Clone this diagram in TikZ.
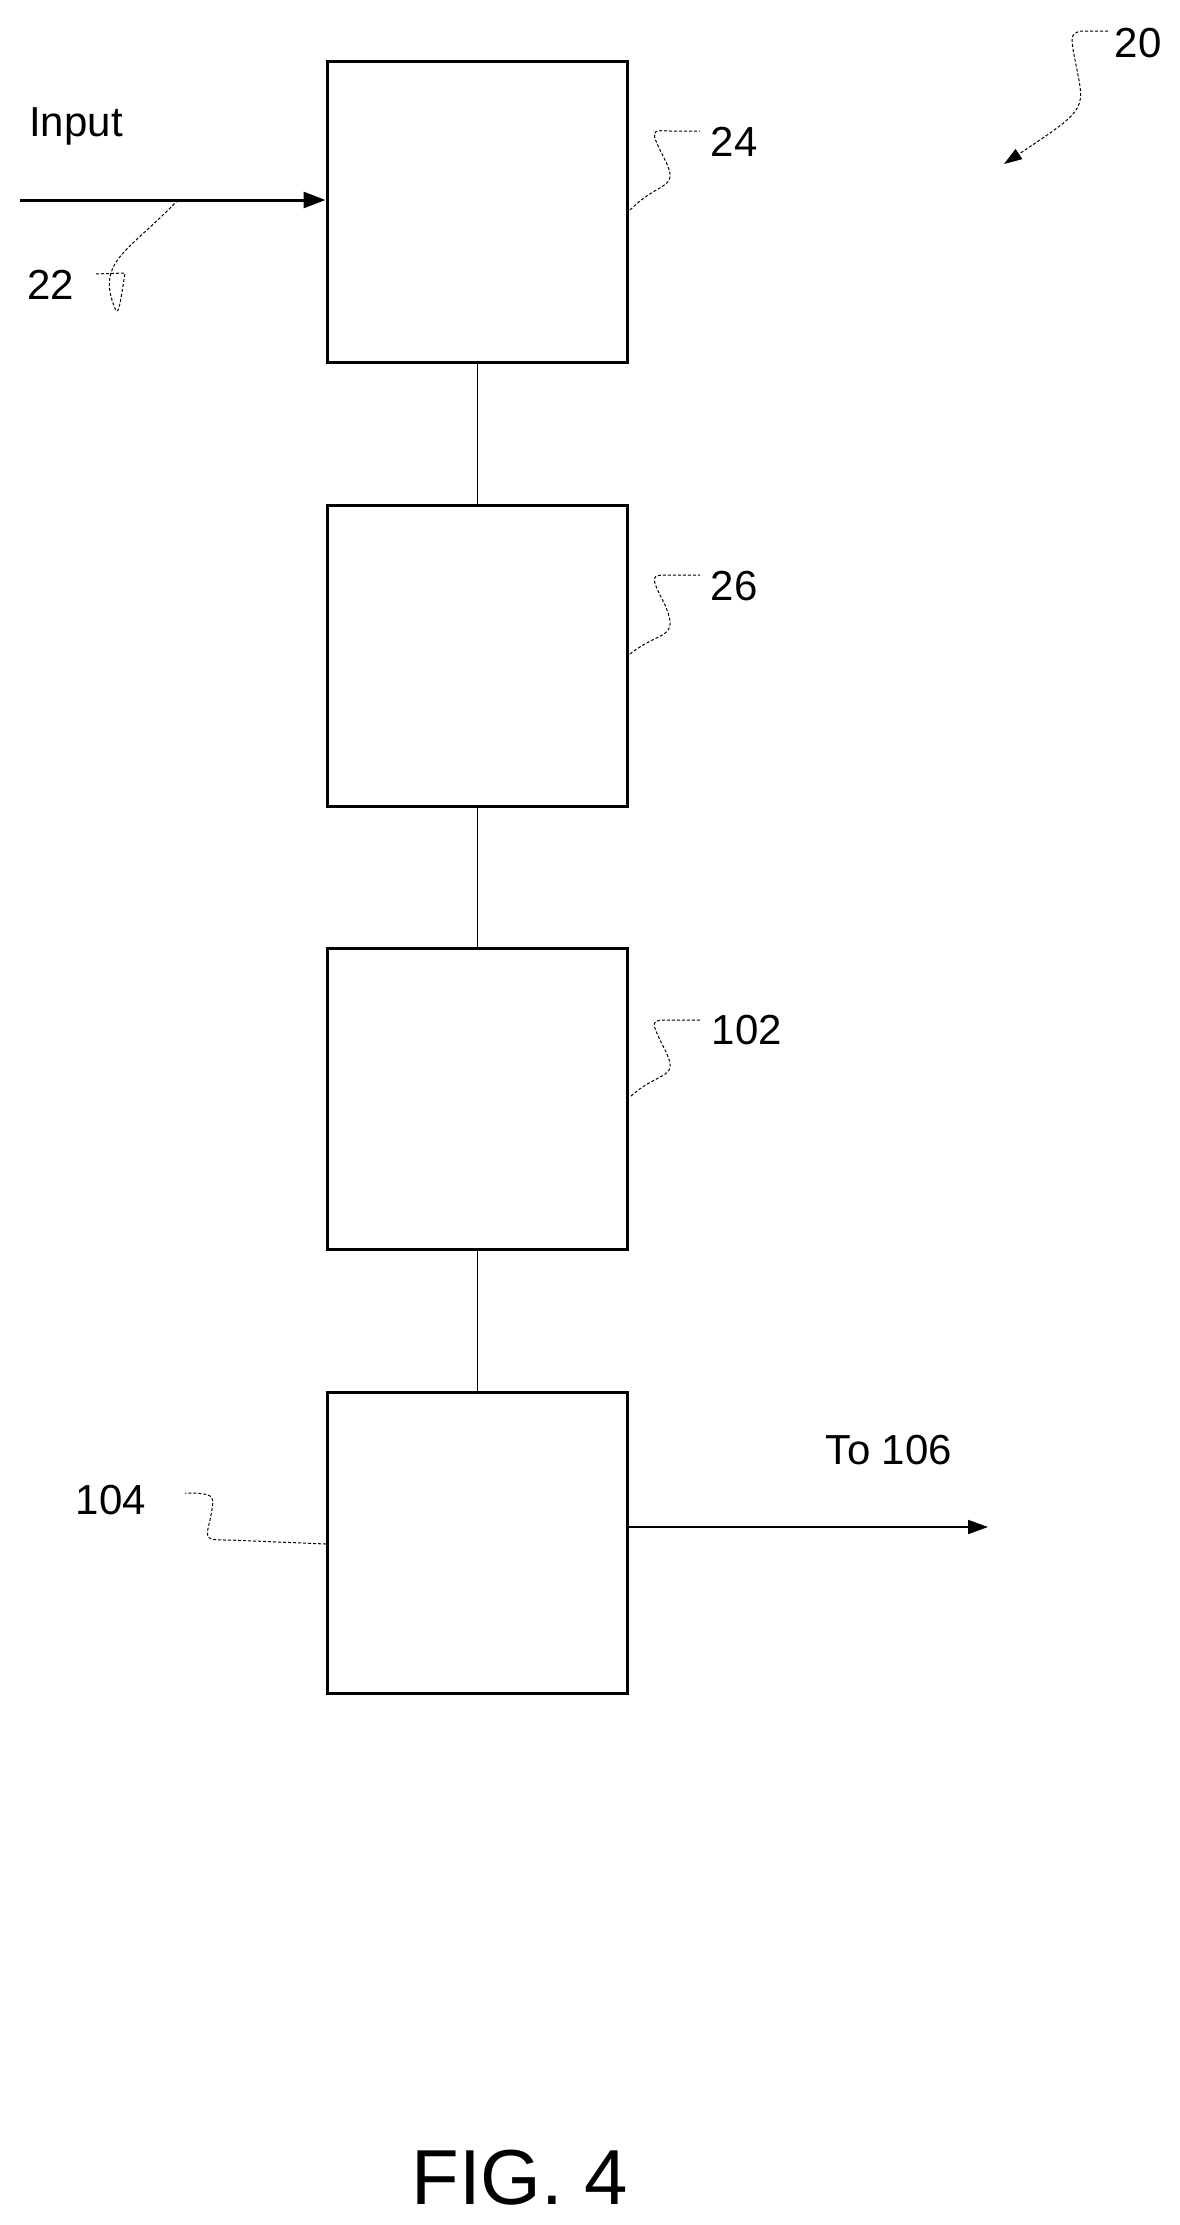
\documentclass[tikz,border=0pt]{standalone}
\usepackage{fontspec}
\setmainfont{Liberation Sans}
\usetikzlibrary{arrows.meta}
\begin{document}
\begin{tikzpicture}[x=1pt,y=-1pt,
  blk/.style={draw,line width=3pt,minimum width=300pt,minimum height=301pt,inner sep=0},
  lbl/.style={font=\fontsize{42}{48}\selectfont,inner sep=0},
  lead/.style={densely dashed,line width=1pt},
  arr/.style={line width=3pt,-{Triangle[length=22pt,width=16pt]}}]
\useasboundingbox (0,0) rectangle (1180,2225);
\node[blk] (b24) at (477,211.5) {};
\node[blk] (b26) at (477,655.5) {};
\node[blk] (b102) at (477,1099) {};
\node[blk] (b104) at (477,1543) {};
\draw[line width=1pt] (b24.south) -- (b26.north);
\draw[line width=1pt] (b26.south) -- (b102.north);
\draw[line width=1pt] (b102.south) -- (b104.north);
\coordinate (in) at (20,200);
\draw[arr] (in) -- (b24.west |- in);
\node[lbl] (tin) at (76,126) {Input};
\coordinate (out) at (988,1527);
\draw[line width=2pt,-{Triangle[length=20pt,width=14pt]}] (b104.east |- out) -- (out);
\node[lbl] (t106) at (889,1450) {To 106};
\node[lbl] (t22) at (51,285) {22};
\draw[lead] (178,200) .. controls (130,250) and (100,260) .. (112,300) .. controls (118,318) .. (125,277-4) -- (95,274);
\node[lbl] (t24) at (734,142) {24};
\draw[lead] (630,210) .. controls (660,180) and (680,190) .. (665,160) .. controls (650,130) .. (670,131) -- (700,131);
\node[lbl] (t26) at (734,586) {26};
\draw[lead] (630,654) .. controls (660,630) and (680,640) .. (665,605) .. controls (650,575) .. (670,575) -- (700,575);
\node[lbl] (t102) at (747,1030) {102};
\draw[lead] (631,1096) .. controls (660,1070) and (680,1080) .. (665,1050) .. controls (650,1020) .. (670,1020) -- (700,1020);
\node[lbl] (t104) at (111,1500) {104};
\draw[lead] (326,1544) -- (230,1540) .. controls (205,1540) .. (210,1520) .. controls (215,1495) .. (195,1493) -- (185,1493);
\node[lbl] (t20) at (1138,43) {20};
\draw[lead,-{Triangle[length=18pt,width=12pt]}] (1108,31) -- (1080,31) .. controls (1070,35) .. (1077,70) .. controls (1085,110) .. (1004,164);
\node[font=\fontsize{78}{90}\selectfont,inner sep=0] (fig) at (520,2178) {FIG. 4};
\end{tikzpicture}
\end{document}
